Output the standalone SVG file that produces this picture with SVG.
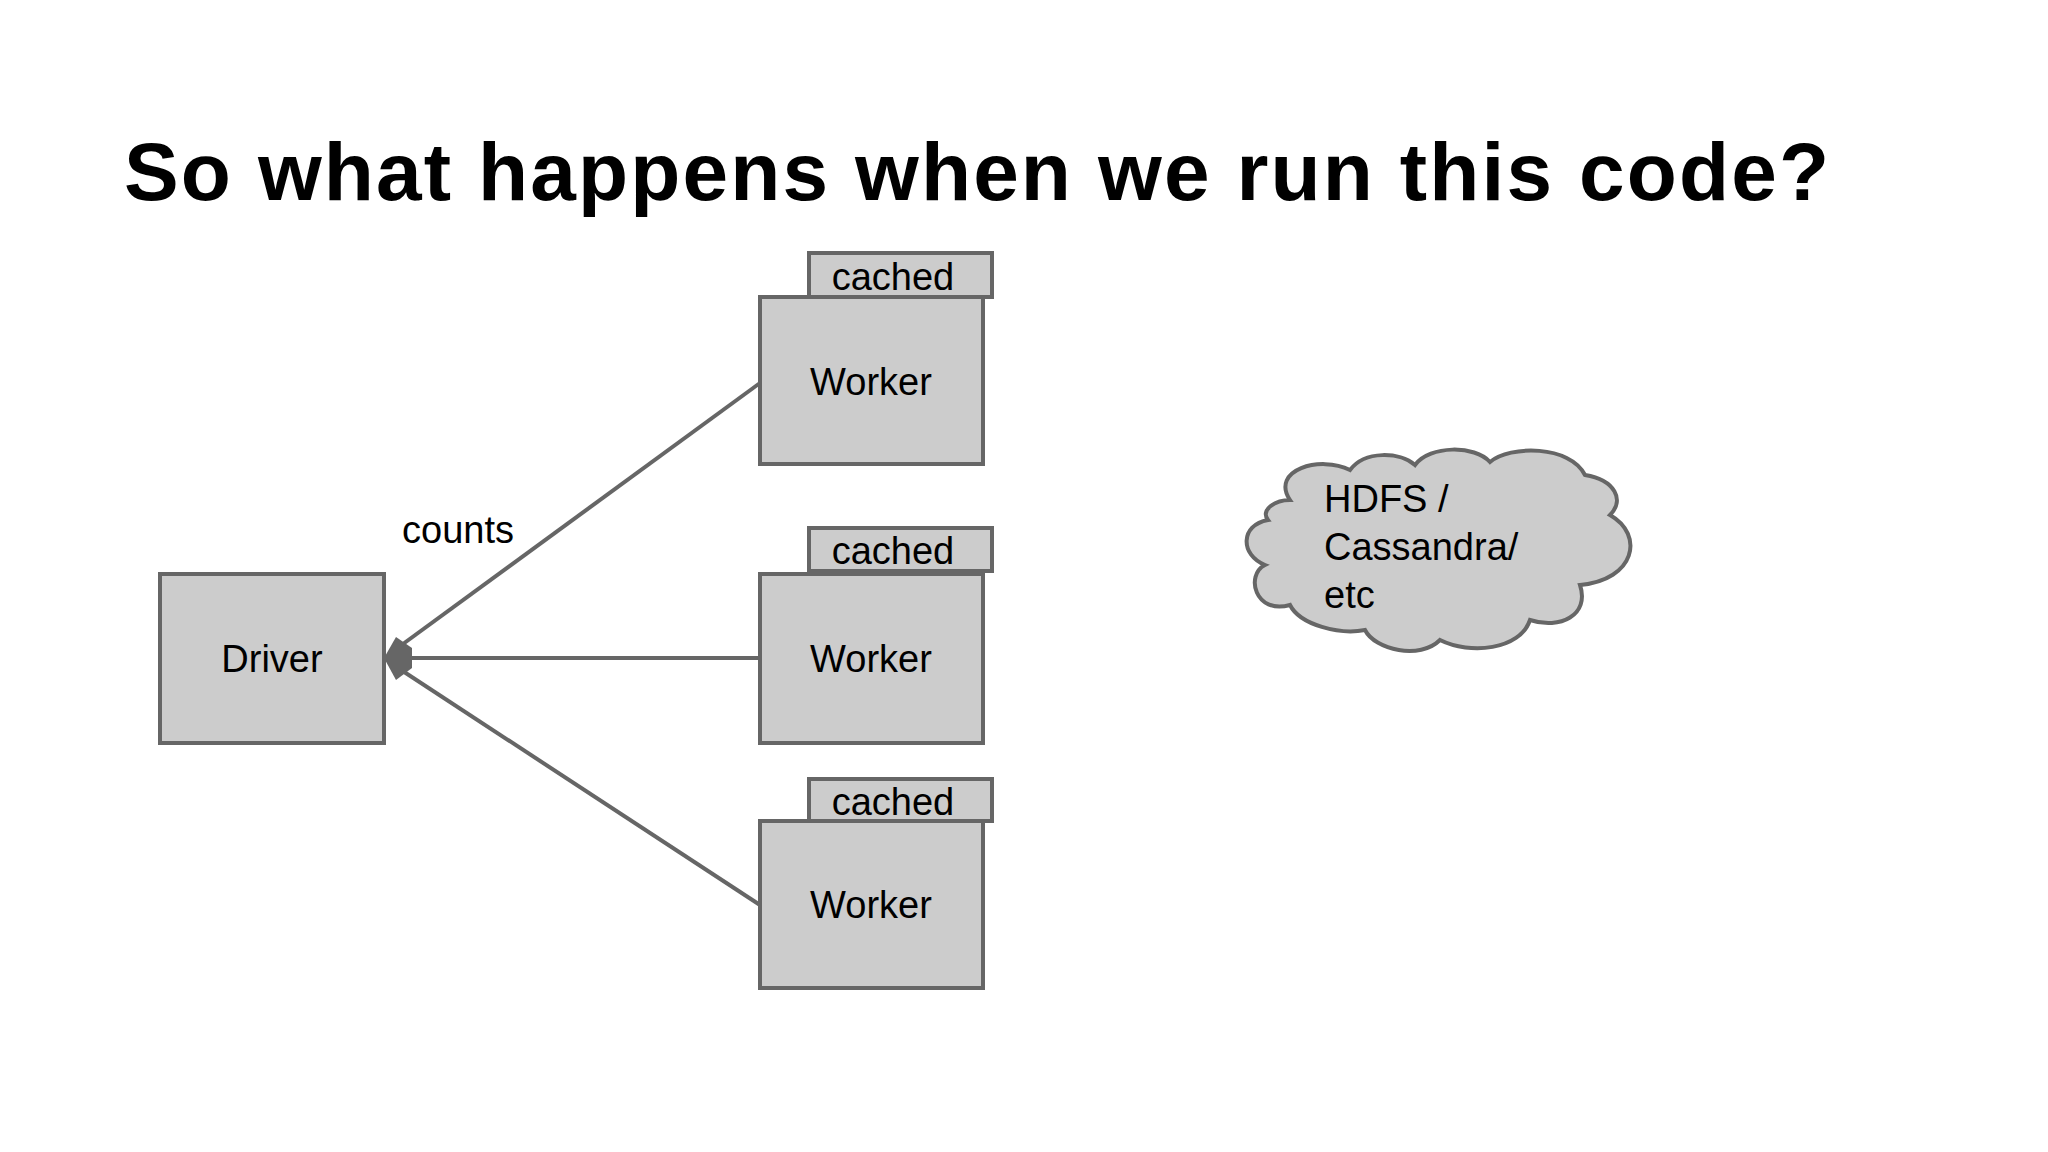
<svg xmlns="http://www.w3.org/2000/svg" width="2048" height="1152" viewBox="0 0 2048 1152">
<style>
.b{fill:#cccccc;stroke:#666666;stroke-width:4}
.t{font-family:"Liberation Sans",Arial,sans-serif;font-size:38px;fill:#000}
.c{stroke:#666666;stroke-width:4;fill:none}
</style>
<defs><marker id="a" markerWidth="10" markerHeight="10" refX="1" refY="5" orient="auto" markerUnits="userSpaceOnUse" viewBox="0 0 10 10"><path d="M0,5 L6,0 L10,3 L10,7 L6,10 Z" fill="#666666"/></marker></defs>
<rect width="2048" height="1152" fill="#fff"/>
<text x="124" y="200" font-family="Liberation Sans,Arial,sans-serif" font-weight="bold" font-size="82" textLength="1705">So what happens when we run this code?</text>
<g id="connectors">
<path class="c" d="M760,383 L392,652"/>
<path class="c" d="M760,658 L392,658"/>
<path class="c" d="M760,905 L392,664"/>
<path d="M384,658 L396,637 L412,648 L412,668 L396,680 Z" fill="#666666"/>
<text class="t" x="402" y="543">counts</text>
</g>
<g id="driver"><rect class="b" x="160" y="574" width="224" height="169"/><text class="t" x="272" y="672" text-anchor="middle">Driver</text></g>
<g id="worker1"><rect class="b" x="809" y="253" width="183" height="44"/><text class="t" x="893" y="290" text-anchor="middle">cached</text><rect class="b" x="760" y="297" width="223" height="167"/><text class="t" x="871" y="395" text-anchor="middle">Worker</text></g>
<g id="worker2"><rect class="b" x="809" y="528" width="183" height="43"/><text class="t" x="893" y="564" text-anchor="middle">cached</text><rect class="b" x="760" y="574" width="223" height="169"/><text class="t" x="871" y="672" text-anchor="middle">Worker</text></g>
<g id="worker3"><rect class="b" x="809" y="779" width="183" height="42"/><text class="t" x="893" y="815" text-anchor="middle">cached</text><rect class="b" x="760" y="821" width="223" height="167"/><text class="t" x="871" y="918" text-anchor="middle">Worker</text></g>
<g id="cloud">
<path class="b" d="M1290,500 C1270,470 1320,455 1350,470 C1365,450 1400,452 1415,465 C1430,445 1475,445 1490,462 C1510,445 1570,445 1585,475 C1615,480 1625,500 1610,515 C1645,535 1635,580 1580,585 C1590,615 1560,630 1530,620 C1520,650 1470,655 1440,640 C1420,660 1375,650 1365,630 C1340,635 1300,625 1290,605 C1255,615 1245,575 1265,565 C1240,555 1240,525 1268,520 C1260,510 1275,500 1290,500 Z"/>
<text class="t" x="1324" y="512">HDFS /</text>
<text class="t" x="1324" y="560">Cassandra/</text>
<text class="t" x="1324" y="608">etc</text>
</g>
</svg>
